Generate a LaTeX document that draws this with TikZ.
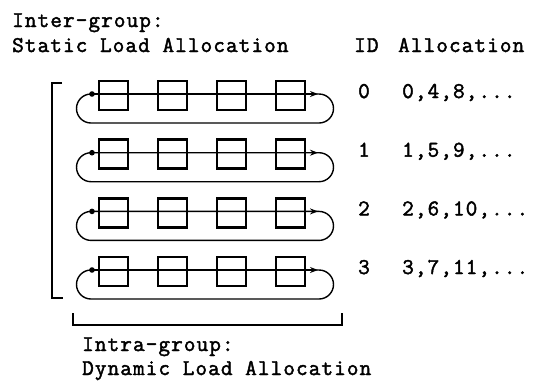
\documentclass[tikz,border=0pt]{standalone}
\usepackage{fontspec}
\newfontfamily\monofnt[LetterSpace=5,FakeBold=2]{Latin Modern Mono}
\usetikzlibrary{arrows.meta}
\begin{document}
\begin{tikzpicture}[x=1pt,y=-1pt,
  cell/.style={draw,line width=2.6pt,minimum size=29pt,inner sep=0pt},
  loopline/.style={line width=1.4pt},
  brack/.style={line width=1.4pt},
  lbl/.style={font=\monofnt\fontsize{22.5}{26}\selectfont,inner sep=0pt,anchor=base west}]
\useasboundingbox (0,0) rectangle (538,384);
% header
\node[lbl] (h1) at (12,27) {Inter-group:};
\node[lbl] (h2) at (12,52) {Static Load Allocation};
\node[lbl] (hid) at (354,52) {ID};
\node[lbl] (hal) at (398,52) {Allocation};
% rows
\foreach \r/\yy/\id/\al in {0/94/0/{0,4,8,...},1/152.7/1/{1,5,9,...},2/211.4/2/{2,6,10,...},3/270/3/{3,7,11,...}}{
  \foreach \c/\xx in {1/113.5,2/172.5,3/231.5,4/290.5}{
    \node[cell] (b\r\c) at (\xx,\yy+1.5) {};
  }
  \coordinate (s\r) at (92,\yy);
  \coordinate (e\r) at (319,\yy);
  \coordinate (a\r) at (318,\yy);
  \draw[loopline] (s\r) -- (e\r) arc[start angle=-90,end angle=90,radius=14.5]
     -- ++(-228,0) arc[start angle=90,end angle=270,radius=14.5] -- cycle;
  \draw[-{Stealth[length=8pt,width=6pt]},loopline] (s\r) -- (a\r);
  \fill (s\r) circle[radius=2.8];
  \node[lbl] (id\r) at (358,\yy+4) {\id};
  \node[lbl] (al\r) at (402,\yy+4) {\al};
}
% left bracket
\coordinate (lt) at (62,83);
\coordinate (lb) at (63,298);
\draw[brack] (lt) -- (52,83) -- (52,298) -- (lb);
% bottom bracket
\coordinate (bl) at (73,313);
\coordinate (br) at (342,313);
\draw[brack] (bl) -- (73,325) -- (342,325) -- (br);
\node[lbl] (f1) at (82,351) {Intra-group:};
\node[lbl] (f2) at (82,375) {Dynamic Load Allocation};
\end{tikzpicture}
\end{document}
